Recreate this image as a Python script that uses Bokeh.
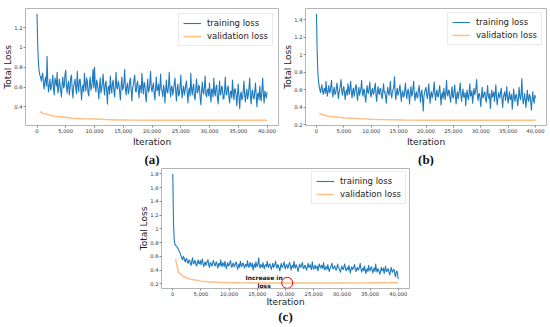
from bokeh.plotting import figure
from bokeh.layouts import column, row
from bokeh.models import (Range1d, FixedTicker, NumeralTickFormatter, Legend,
                          LegendItem, Title, Spacer)
from bokeh.core.properties import value
from bokeh.embed import file_html
from bokeh.resources import INLINE

# ---------------- data ----------------
iterations = list(range(0, 40001, 125))

train_a = [
    1.34, 1.02, 0.84, 0.76, 0.72, 0.70, 0.66, 0.71, 0.74, 0.63, 0.58, 0.67, 0.70, 0.61, 0.91, 0.64, 0.55, 0.62, 0.68, 0.57,
    0.60, 0.65, 0.72, 0.58, 0.52, 0.69, 0.66, 0.61, 0.75, 0.54, 0.57, 0.68, 0.63, 0.56, 0.50, 0.64, 0.70, 0.59, 0.61, 0.73,
    0.77, 0.60, 0.54, 0.63, 0.66, 0.52, 0.59, 0.70, 0.72, 0.57, 0.49, 0.61, 0.64, 0.68, 0.58, 0.53, 0.76, 0.62, 0.55, 0.67,
    0.68, 0.58, 0.47, 0.60, 0.62, 0.55, 0.74, 0.63, 0.56, 0.69, 0.66, 0.54, 0.51, 0.64, 0.70, 0.57, 0.60, 0.66, 0.78, 0.59,
    0.80, 0.62, 0.55, 0.67, 0.64, 0.57, 0.48, 0.61, 0.69, 0.54, 0.58, 0.65, 0.73, 0.59, 0.52, 0.63, 0.66, 0.55, 0.43, 0.60,
    0.61, 0.53, 0.71, 0.60, 0.54, 0.64, 0.67, 0.56, 0.50, 0.62, 0.75, 0.59, 0.58, 0.66, 0.63, 0.55, 0.47, 0.61, 0.70, 0.57,
    0.59, 0.65, 0.78, 0.58, 0.52, 0.61, 0.64, 0.53, 0.56, 0.66, 0.69, 0.57, 0.46, 0.59, 0.62, 0.68, 0.72, 0.56, 0.55, 0.63,
    0.66, 0.56, 0.49, 0.62, 0.60, 0.54, 0.74, 0.61, 0.53, 0.65, 0.63, 0.52, 0.45, 0.58, 0.68, 0.55, 0.57, 0.64, 0.76, 0.59,
    0.55, 0.61, 0.64, 0.53, 0.47, 0.59, 0.70, 0.56, 0.58, 0.63, 0.51, 0.60, 0.73, 0.57, 0.56, 0.50, 0.62, 0.58, 0.44, 0.57,
    0.67, 0.55, 0.54, 0.62, 0.75, 0.58, 0.50, 0.61, 0.60, 0.52, 0.57, 0.64, 0.69, 0.55, 0.46, 0.59, 0.63, 0.51, 0.53, 0.60,
    0.72, 0.57, 0.49, 0.58, 0.61, 0.52, 0.56, 0.63, 0.66, 0.54, 0.44, 0.56, 0.59, 0.51, 0.74, 0.58, 0.52, 0.60, 0.63, 0.50,
    0.47, 0.59, 0.68, 0.54, 0.55, 0.62, 0.60, 0.49, 0.42, 0.56, 0.65, 0.55, 0.53, 0.61, 0.71, 0.52, 0.50, 0.57, 0.58, 0.51,
    0.64, 0.53, 0.45, 0.58, 0.57, 0.50, 0.69, 0.55, 0.51, 0.60, 0.62, 0.49, 0.43, 0.55, 0.66, 0.52, 0.54, 0.61, 0.59, 0.48,
    0.48, 0.57, 0.70, 0.53, 0.52, 0.59, 0.61, 0.50, 0.44, 0.55, 0.56, 0.49, 0.67, 0.54, 0.47, 0.58, 0.58, 0.51, 0.41, 0.53,
    0.63, 0.50, 0.38, 0.52, 0.55, 0.47, 0.49, 0.57, 0.66, 0.51, 0.45, 0.54, 0.58, 0.48, 0.52, 0.60, 0.69, 0.50, 0.43, 0.55,
    0.57, 0.49, 0.48, 0.56, 0.64, 0.51, 0.40, 0.53, 0.54, 0.47, 0.61, 0.50, 0.46, 0.58, 0.69, 0.52, 0.44, 0.56, 0.52, 0.49,
    0.55,
]

train_b = [
    1.47, 1.05, 0.80, 0.70, 0.64, 0.60, 0.57, 0.63, 0.66, 0.58, 0.55, 0.61, 0.62, 0.56, 0.70, 0.59, 0.53, 0.60, 0.65, 0.57,
    0.58, 0.64, 0.71, 0.57, 0.52, 0.60, 0.63, 0.55, 0.56, 0.62, 0.68, 0.59, 0.50, 0.57, 0.61, 0.66, 0.72, 0.58, 0.54, 0.61,
    0.64, 0.56, 0.49, 0.58, 0.60, 0.54, 0.67, 0.61, 0.55, 0.63, 0.70, 0.57, 0.51, 0.59, 0.62, 0.53, 0.57, 0.64, 0.66, 0.55,
    0.48, 0.57, 0.63, 0.54, 0.58, 0.62, 0.71, 0.56, 0.53, 0.61, 0.60, 0.52, 0.46, 0.58, 0.65, 0.57, 0.56, 0.63, 0.69, 0.55,
    0.52, 0.60, 0.62, 0.55, 0.57, 0.63, 0.68, 0.54, 0.47, 0.58, 0.64, 0.56, 0.55, 0.62, 0.61, 0.53, 0.50, 0.59, 0.67, 0.57,
    0.58, 0.52, 0.45, 0.56, 0.63, 0.57, 0.54, 0.61, 0.70, 0.55, 0.51, 0.59, 0.60, 0.64, 0.75, 0.56, 0.49, 0.58, 0.62, 0.54,
    0.56, 0.61, 0.66, 0.55, 0.47, 0.57, 0.59, 0.52, 0.53, 0.60, 0.68, 0.56, 0.50, 0.58, 0.61, 0.54, 0.44, 0.57, 0.64, 0.53,
    0.55, 0.62, 0.70, 0.54, 0.48, 0.56, 0.58, 0.51, 0.52, 0.60, 0.65, 0.55, 0.46, 0.57, 0.60, 0.50, 0.36, 0.53, 0.57, 0.61,
    0.63, 0.55, 0.50, 0.58, 0.67, 0.54, 0.45, 0.56, 0.58, 0.51, 0.54, 0.61, 0.69, 0.55, 0.48, 0.57, 0.60, 0.53, 0.52, 0.59,
    0.65, 0.54, 0.43, 0.55, 0.57, 0.50, 0.62, 0.56, 0.49, 0.58, 0.71, 0.55, 0.53, 0.60, 0.59, 0.51, 0.46, 0.56, 0.64, 0.52,
    0.51, 0.59, 0.66, 0.53, 0.44, 0.55, 0.58, 0.50, 0.55, 0.61, 0.68, 0.54, 0.47, 0.56, 0.61, 0.52, 0.52, 0.57, 0.42, 0.53,
    0.60, 0.52, 0.49, 0.57, 0.67, 0.53, 0.54, 0.59, 0.45, 0.52, 0.62, 0.55, 0.57, 0.63, 0.72, 0.54, 0.48, 0.55, 0.56, 0.50,
    0.41, 0.53, 0.63, 0.51, 0.52, 0.57, 0.58, 0.49, 0.46, 0.55, 0.65, 0.53, 0.50, 0.56, 0.39, 0.50, 0.60, 0.52, 0.54, 0.58,
    0.47, 0.55, 0.66, 0.52, 0.43, 0.50, 0.57, 0.53, 0.51, 0.58, 0.62, 0.49, 0.40, 0.52, 0.55, 0.58, 0.48, 0.54, 0.64, 0.50,
    0.45, 0.53, 0.58, 0.49, 0.50, 0.55, 0.38, 0.48, 0.61, 0.52, 0.47, 0.54, 0.55, 0.49, 0.42, 0.51, 0.63, 0.53, 0.49, 0.56,
    0.73, 0.52, 0.44, 0.50, 0.56, 0.48, 0.40, 0.51, 0.60, 0.49, 0.47, 0.55, 0.53, 0.46, 0.37, 0.50, 0.58, 0.48, 0.45, 0.54,
    0.51,
]

train_c = [
    1.80, 1.10, 0.85, 0.78, 0.76, 0.75, 0.74, 0.72, 0.71, 0.68, 0.66, 0.63, 0.60, 0.57, 0.55, 0.60, 0.58, 0.53, 0.52, 0.57,
    0.56, 0.51, 0.50, 0.55, 0.54, 0.49, 0.47, 0.53, 0.58, 0.50, 0.49, 0.54, 0.53, 0.48, 0.46, 0.52, 0.55, 0.49, 0.50, 0.54,
    0.48, 0.52, 0.56, 0.49, 0.45, 0.50, 0.52, 0.47, 0.49, 0.53, 0.55, 0.48, 0.44, 0.50, 0.51, 0.46, 0.47, 0.52, 0.54, 0.48,
    0.46, 0.50, 0.52, 0.47, 0.43, 0.49, 0.50, 0.46, 0.55, 0.48, 0.45, 0.51, 0.49, 0.45, 0.53, 0.48, 0.42, 0.47, 0.51, 0.46,
    0.47, 0.51, 0.54, 0.46, 0.44, 0.49, 0.50, 0.45, 0.46, 0.50, 0.52, 0.47, 0.41, 0.46, 0.49, 0.44, 0.53, 0.48, 0.45, 0.50,
    0.50, 0.46, 0.43, 0.48, 0.48, 0.45, 0.54, 0.47, 0.44, 0.49, 0.51, 0.45, 0.46, 0.50, 0.40, 0.45, 0.49, 0.44, 0.52, 0.47,
    0.45, 0.50, 0.58, 0.46, 0.43, 0.48, 0.47, 0.44, 0.51, 0.46, 0.42, 0.47, 0.48, 0.45, 0.53, 0.46, 0.44, 0.49, 0.49, 0.44,
    0.41, 0.46, 0.50, 0.44, 0.46, 0.49, 0.53, 0.45, 0.43, 0.48, 0.47, 0.42, 0.39, 0.45, 0.50, 0.44, 0.45, 0.48, 0.52, 0.44,
    0.42, 0.47, 0.48, 0.43, 0.44, 0.49, 0.51, 0.45, 0.40, 0.46, 0.47, 0.43, 0.53, 0.46, 0.43, 0.48, 0.46, 0.42, 0.38, 0.44,
    0.49, 0.45, 0.44, 0.48, 0.51, 0.44, 0.42, 0.46, 0.47, 0.43, 0.40, 0.45, 0.50, 0.44, 0.45, 0.48, 0.43, 0.41, 0.52, 0.45,
    0.41, 0.45, 0.47, 0.42, 0.44, 0.46, 0.39, 0.44, 0.49, 0.45, 0.43, 0.47, 0.46, 0.42, 0.51, 0.44, 0.40, 0.44, 0.45, 0.41,
    0.48, 0.43, 0.38, 0.42, 0.44, 0.47, 0.50, 0.43, 0.42, 0.45, 0.46, 0.41, 0.40, 0.44, 0.49, 0.43, 0.43, 0.40, 0.37, 0.42,
    0.46, 0.42, 0.41, 0.45, 0.49, 0.43, 0.39, 0.42, 0.44, 0.40, 0.47, 0.42, 0.36, 0.41, 0.45, 0.41, 0.42, 0.45, 0.48, 0.41,
    0.38, 0.42, 0.44, 0.40, 0.41, 0.45, 0.50, 0.42, 0.37, 0.41, 0.43, 0.39, 0.46, 0.41, 0.35, 0.40, 0.42, 0.38, 0.47, 0.41,
    0.39, 0.43, 0.45, 0.40, 0.36, 0.41, 0.43, 0.38, 0.49, 0.41, 0.37, 0.42, 0.41, 0.37, 0.34, 0.39, 0.44, 0.39, 0.40, 0.43,
    0.35, 0.40, 0.46, 0.39, 0.38, 0.41, 0.42, 0.36, 0.33, 0.38, 0.44, 0.39, 0.37, 0.40, 0.41, 0.36, 0.30, 0.36, 0.39, 0.35,
    0.27,
]

val_iters = [500, 1000, 2000, 3000, 4000, 5000, 6000, 8000, 10000, 12000,
             14000, 16000, 20000, 25000, 30000, 35000, 40000]
val_a = [0.350, 0.335, 0.320, 0.305, 0.300, 0.295, 0.285, 0.280, 0.278, 0.272,
         0.268, 0.266, 0.265, 0.265, 0.265, 0.265, 0.265]
val_b = [0.335, 0.320, 0.300, 0.295, 0.290, 0.280, 0.277, 0.270, 0.265, 0.262,
         0.260, 0.258, 0.255, 0.255, 0.255, 0.255, 0.255]
val_c = [0.560, 0.370, 0.300, 0.270, 0.255, 0.240, 0.232, 0.222, 0.218, 0.215,
         0.213, 0.212, 0.212, 0.212, 0.214, 0.215, 0.217]

x_ticks = [0, 5000, 10000, 15000, 20000, 25000, 30000, 35000, 40000]
y_ticks_a = [0.4, 0.6, 0.8, 1.0, 1.2]
y_ticks_b = [0.2, 0.4, 0.6, 0.8, 1.0, 1.2, 1.4]
y_ticks_c = [0.2, 0.4, 0.6, 0.8, 1.0, 1.2, 1.4, 1.6, 1.8]

series_names = ["training loss", "validation loss"]
panel_labels = ["(a)", "(b)", "(c)"]
x_title = "Iteration"
y_title = "Total Loss"

note_x = [16200]
note_y = [0.233]
note_text = ["Increase in\nloss"]
mark_x = [20300]
mark_y = [0.215]

# ---------------- style ----------------
FONT = "DejaVu Sans"
SERIF = "Liberation Serif"
TRAIN_COLOR = "#1f7bbf"
VAL_COLOR = "#ff7f0e"


def make_panel(train, val, yticks, label, width, height, borders,
               legend_margin, label_offset, label_standoff, xlabel_standoff):
    left, right, top, bottom = borders
    lo = min(min(train), min(val))
    hi = max(max(train), max(val))
    pad = 0.05 * (hi - lo)
    xpad = 0.05 * (max(iterations) - min(iterations))
    p = figure(width=width, height=height, output_backend="svg",
               toolbar_location=None,
               x_range=Range1d(min(iterations) - xpad, max(iterations) + xpad),
               y_range=Range1d(lo - pad, hi + pad),
               min_border_left=left, min_border_right=right,
               min_border_top=top, min_border_bottom=bottom)
    p.grid.visible = False
    p.outline_line_color = "#b5b5b5"
    p.outline_line_width = 1
    p.background_fill_color = "white"
    p.border_fill_color = "white"

    r_train = p.line(iterations, train, line_color=TRAIN_COLOR,
                     line_width=1.1, line_join="round")
    r_val = p.line(val_iters, val, line_color=VAL_COLOR, line_alpha=0.5,
                   line_width=1.5)

    p.xaxis.ticker = FixedTicker(ticks=x_ticks)
    p.xaxis.formatter = NumeralTickFormatter(format="0,0")
    p.yaxis.ticker = FixedTicker(ticks=yticks)
    for ax in (p.xaxis[0], p.yaxis[0]):
        ax.axis_line_color = None
        ax.major_tick_line_color = "#888888"
        ax.major_tick_out = 2
        ax.major_tick_in = 0
        ax.minor_tick_line_color = None
        ax.major_label_text_font = FONT
        ax.major_label_text_font_size = "5.2px"
        ax.major_label_text_color = "#333333"
        ax.major_label_standoff = 1
        ax.axis_label_text_font = FONT
        ax.axis_label_text_font_size = "9px"
        ax.axis_label_text_font_style = "normal"
        ax.axis_label_text_color = "#222222"
    p.xaxis.axis_label_standoff = xlabel_standoff
    p.yaxis.axis_label_standoff = -2
    p.xaxis.axis_label = x_title
    p.yaxis.axis_label = y_title

    legend = Legend(items=[LegendItem(label=series_names[0], renderers=[r_train]),
                           LegendItem(label=series_names[1], renderers=[r_val])],
                    location="top_right", margin=legend_margin,
                    label_text_font=FONT, label_text_font_size="8.5px",
                    label_text_color="#222222",
                    glyph_width=18, glyph_height=10, label_height=10,
                    label_standoff=6, padding=4, spacing=3,
                    border_line_color="#d5d5d5", border_line_width=1,
                    background_fill_alpha=1.0)
    p.add_layout(legend)

    p.add_layout(Title(text=label, align="center", offset=label_offset,
                       standoff=label_standoff, text_font=SERIF,
                       text_font_size="13px", text_font_style="bold",
                       text_color="#111111"), "below")
    return p


pa = make_panel(train_a, val_a, y_ticks_a, panel_labels[0], 280, 166,
                (24, 2, 5, 38), 5, -12, 0, 1)
pb = make_panel(train_b, val_b, y_ticks_b, panel_labels[1], 270, 166,
                (22, 4, 8, 39), 4, -12, 0, 1)
pc = make_panel(train_c, val_c, y_ticks_c, panel_labels[2], 290, 161,
                (31, 11, 2, 39), 3, 0, -5, -2)

pc.text(x=note_x, y=note_y, text=note_text, text_font=value(FONT),
        text_font_size="6px", text_font_style="bold", text_color="#111111",
        text_align="center", text_baseline="middle", text_line_height=1.15)
pc.scatter(x=mark_x, y=mark_y, marker="circle", size=11, fill_color=None,
           line_color="red", line_width=1)

layout = column(row(pa, pb),
                row(Spacer(width=130, height=161), pc, Spacer(width=130, height=161)))

open("out.html", "w").write(file_html(layout, INLINE))
